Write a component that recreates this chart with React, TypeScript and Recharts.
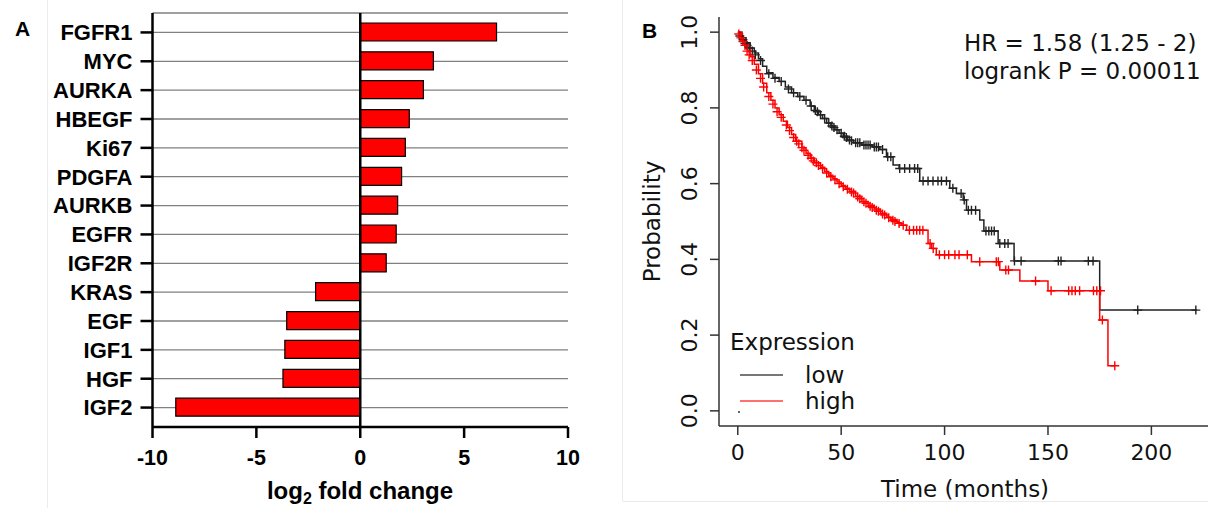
import React from 'react';
import {
  BarChart, Bar, XAxis, YAxis, CartesianGrid, ReferenceLine,
  ComposedChart, Line, Scatter,
} from 'recharts';

// ---------- Panel A data ----------
const genes = ['FGFR1', 'MYC', 'AURKA', 'HBEGF', 'Ki67', 'PDGFA', 'AURKB', 'EGFR', 'IGF2R', 'KRAS', 'EGF', 'IGF1', 'HGF', 'IGF2'];
const log2FoldChange = [6.56, 3.52, 3.04, 2.36, 2.17, 1.99, 1.8, 1.73, 1.25, -2.15, -3.54, -3.63, -3.72, -8.88];
const foldTicks = [-10, -5, 0, 5, 10];

// ---------- Panel B data (Kaplan-Meier) ----------
const timeTicks = [0, 50, 100, 150, 200];
const probTicks = [0, 0.2, 0.4, 0.6, 0.8, 1.0];

const lowSteps: [number, number][] = [
  [0, 1], [2, 0.985], [4, 0.972], [6, 0.958], [8, 0.945], [10, 0.93], [12, 0.91], [14, 0.893], [17, 0.88], [20, 0.87],
  [23, 0.855], [26, 0.84], [29, 0.83], [32, 0.82], [35, 0.805], [37, 0.793], [39, 0.782], [41, 0.772], [43, 0.76],
  [45, 0.752], [47, 0.742], [49, 0.733], [51, 0.725], [53, 0.715], [56, 0.708], [60, 0.702], [65, 0.697], [68.7, 0.69],
  [71.9, 0.671], [75.1, 0.649], [78, 0.64], [88, 0.607], [102.5, 0.588], [105.7, 0.574], [109, 0.557], [110.6, 0.53],
  [117, 0.504], [119, 0.475], [125.9, 0.442], [133.6, 0.396], [175, 0.266], [222, 0.266],
];

const highSteps: [number, number][] = [
  [0, 1], [2, 0.98], [4, 0.96], [6, 0.935], [8, 0.915], [10, 0.89], [12, 0.865], [14, 0.84], [16, 0.82], [18, 0.8],
  [20, 0.782], [22, 0.765], [24, 0.748], [26, 0.73], [28, 0.712], [31, 0.695], [33, 0.68], [35, 0.667], [37, 0.655],
  [40, 0.643], [42, 0.632], [44, 0.622], [46, 0.613], [48, 0.604], [50, 0.595], [52, 0.588], [54, 0.58], [57, 0.567],
  [60, 0.553], [63, 0.543], [66, 0.533], [69, 0.522], [72, 0.512], [74, 0.505], [77, 0.497], [79, 0.49], [81.6, 0.477],
  [92, 0.442], [93.7, 0.429], [96, 0.412], [113, 0.394], [126.7, 0.372], [136.4, 0.343], [150, 0.317], [175, 0.24],
  [179, 0.119], [182.3, 0.119],
];

const lowCensored: [number, number][] = [
  [1, 0.99], [2.5, 0.98], [3.5, 0.97], [4.5, 0.965], [5.5, 0.958], [7, 0.95], [8.5, 0.94], [11, 0.925], [15, 0.89],
  [18, 0.878], [21, 0.87], [24.5, 0.85], [27, 0.84], [30, 0.83], [33, 0.82], [35.5, 0.805], [37.5, 0.793], [38.5, 0.79],
  [40, 0.782], [42, 0.772], [44, 0.76], [45.5, 0.752], [46.5, 0.748], [48, 0.742], [50, 0.733], [51.5, 0.725],
  [52.5, 0.722], [54, 0.715], [55, 0.713], [57, 0.708], [58, 0.708], [59, 0.708], [61, 0.702], [62, 0.702], [63, 0.702],
  [64, 0.702], [66, 0.697], [67, 0.697], [68, 0.697], [70, 0.69], [72.5, 0.671], [74, 0.671], [78.3, 0.64], [80.7, 0.64],
  [83.1, 0.64], [85.5, 0.64], [87, 0.64], [89.6, 0.607], [92, 0.607], [94.4, 0.607], [96.8, 0.607], [98.5, 0.607],
  [100.9, 0.607], [104, 0.588], [108, 0.574], [109.5, 0.557], [111.5, 0.53], [113, 0.53], [115, 0.53], [120, 0.475],
  [121.4, 0.475], [122.7, 0.475], [124, 0.475], [126.7, 0.442], [129.1, 0.442], [130.7, 0.442], [133.8, 0.396],
  [137, 0.396], [155, 0.396], [156.3, 0.396], [169.5, 0.396], [171.8, 0.396], [193.4, 0.266], [221.5, 0.266],
];

const highCensored: [number, number][] = [
  [0.5, 0.995], [1.5, 0.985], [2.5, 0.975], [3.5, 0.965], [4.5, 0.95], [5.5, 0.94], [7, 0.925], [9, 0.9], [11, 0.878],
  [12.5, 0.855], [15, 0.83], [17, 0.81], [19, 0.79], [21, 0.775], [23.5, 0.755], [25, 0.74], [27, 0.722], [28.5, 0.712],
  [29.5, 0.705], [31, 0.695], [32, 0.688], [34, 0.675], [35.5, 0.667], [36.5, 0.66], [38, 0.655], [39, 0.648], [41, 0.64],
  [43, 0.628], [45, 0.618], [47, 0.61], [49, 0.6], [51, 0.592], [53, 0.585], [55, 0.578], [56, 0.575], [58, 0.565],
  [59, 0.56], [61, 0.552], [62, 0.548], [64, 0.54], [65, 0.537], [67, 0.53], [68, 0.527], [70, 0.52], [71, 0.517],
  [73, 0.51], [75, 0.503], [76, 0.5], [78, 0.495], [80, 0.49], [83, 0.477], [85, 0.477], [86.5, 0.477], [88, 0.477],
  [89.5, 0.477], [93, 0.442], [94.5, 0.429], [97.5, 0.412], [100, 0.412], [102, 0.412], [105, 0.412], [107, 0.412],
  [111, 0.412], [117, 0.394], [125, 0.394], [126, 0.394], [129.6, 0.372], [130.9, 0.372], [144, 0.343], [151.5, 0.317],
  [160, 0.317], [161.6, 0.317], [163.2, 0.317], [165.3, 0.317], [172, 0.317], [173.6, 0.317], [175.4, 0.317],
  [176.3, 0.24], [182.3, 0.119],
];

const barData = genes.map((gene, i) => ({ gene, value: log2FoldChange[i] }));
const toPts = (arr: [number, number][]) => arr.map(([t, s]) => ({ t, s }));
const lowData = toPts(lowSteps);
const highData = toPts(highSteps);
const lowCens = toPts(lowCensored);
const highCens = toPts(highCensored);

const ARIAL = 'Liberation Sans, Arial, Helvetica, sans-serif';
const DEJAVU = 'DejaVu Sans, sans-serif';

const plusShape = (color: string) => (props: any) => {
  const { cx, cy } = props;
  if (cx == null || cy == null) return <g />;
  return (
    <path
      d={`M${cx - 4.5},${cy}h9M${cx},${cy - 4.5}v9`}
      stroke={color}
      strokeWidth={1.4}
      fill="none"
    />
  );
};

const RotatedTick = (props: any) => {
  const { x, y, payload } = props;
  return (
    <text
      x={x}
      y={y}
      transform={`rotate(-90 ${x} ${y})`}
      textAnchor="middle"
      fontSize={22}
      fontFamily={DEJAVU}
      fill="#111"
    >
      {Number(payload.value).toFixed(1)}
    </text>
  );
};

export default function App() {
  return (
    <div style={{ position: 'fixed', left: 0, top: 0, width: 1208, height: 508, overflow: 'hidden', background: '#fff' }}>
      {/* Panel A */}
      <div style={{ position: 'absolute', left: 0, top: 0 }}>
        <BarChart
          layout="vertical"
          width={600}
          height={508}
          data={barData}
          margin={{ top: 13, right: 32, bottom: 0, left: 0 }}
        >
          <CartesianGrid vertical={false} stroke="#808080" strokeWidth={1.3} />
          <XAxis
            type="number"
            domain={[-10, 10]}
            ticks={foldTicks}
            allowDataOverflow
            height={81}
            tickSize={11}
            tickMargin={12}
            axisLine={{ stroke: '#000', strokeWidth: 2.5 }}
            tickLine={{ stroke: '#000', strokeWidth: 2.5 }}
            tick={{ fontSize: 21.5, fontWeight: 'bold', fill: '#000', fontFamily: ARIAL }}
          />
          <YAxis
            type="category"
            dataKey="gene"
            width={152.5}
            padding={{ top: 5, bottom: 5 }}
            tickSize={12}
            tickMargin={8}
            interval={0}
            axisLine={{ stroke: '#000', strokeWidth: 2.5 }}
            tickLine={{ stroke: '#000', strokeWidth: 2.5 }}
            tick={{ fontSize: 22, fontWeight: 'bold', fill: '#000', fontFamily: ARIAL }}
          />
          <Bar dataKey="value" fill="#ff0000" stroke="#000" strokeWidth={1.2} barSize={18} isAnimationActive={false} />
          <ReferenceLine x={0} stroke="#000" strokeWidth={2.5} />
        </BarChart>
      </div>

      {/* Panel B */}
      <div style={{ position: 'absolute', left: 620, top: 0 }}>
        <ComposedChart width={620} height={508} margin={{ top: 17, right: 14, bottom: 0, left: 0 }}>
          <XAxis
            type="number"
            dataKey="t"
            domain={[-9.08, 236.08]}
            ticks={timeTicks}
            allowDataOverflow
            height={82}
            tickSize={9}
            tickMargin={9}
            axisLine={{ stroke: '#333', strokeWidth: 1.5 }}
            tickLine={{ stroke: '#333', strokeWidth: 1.5 }}
            tick={{ fontSize: 22, fill: '#111', fontFamily: DEJAVU }}
          />
          <XAxis
            xAxisId="top"
            orientation="top"
            type="number"
            domain={[-9.08, 236.08]}
            allowDataOverflow
            height={0}
            tick={false}
            tickLine={false}
            axisLine={{ stroke: '#333', strokeWidth: 1.5 }}
          />
          <YAxis
            type="number"
            dataKey="s"
            domain={[-0.04, 1.04]}
            ticks={probTicks}
            allowDataOverflow
            width={99}
            tickSize={9}
            tickMargin={13}
            axisLine={{ stroke: '#333', strokeWidth: 1.5 }}
            tickLine={{ stroke: '#333', strokeWidth: 1.5 }}
            tick={<RotatedTick />}
          />
          <Line data={lowData} dataKey="s" type="stepAfter" stroke="#222" strokeWidth={1.5} dot={false} activeDot={false} isAnimationActive={false} />
          <Line data={highData} dataKey="s" type="stepAfter" stroke="#ff0000" strokeWidth={1.5} dot={false} activeDot={false} isAnimationActive={false} />
          <Scatter data={lowCens} dataKey="s" shape={plusShape('#222')} isAnimationActive={false} />
          <Scatter data={highCens} dataKey="s" shape={plusShape('#ff0000')} isAnimationActive={false} />
        </ComposedChart>
      </div>

      {/* Text overlay: panel letters, axis titles, annotations, legend */}
      <svg width={1208} height={508} style={{ position: 'absolute', left: 0, top: 0, pointerEvents: 'none' }}>
        <line x1={47.5} y1={0} x2={47.5} y2={508} stroke="#ececec" strokeWidth={1} />
        <path d="M622.5,0V501.5H1208" stroke="#ececec" strokeWidth={1} fill="none" />

        <text x={15} y={36} fontSize={21} fontWeight="bold" fontFamily={ARIAL} fill="#000">A</text>
        <text x={642} y={38} fontSize={21} fontWeight="bold" fontFamily={ARIAL} fill="#000">B</text>

        <text x={360} y={499} textAnchor="middle" fontSize={24} fontWeight="bold" fontFamily={ARIAL} fill="#000">
          log<tspan fontSize={16} dy={5}>2</tspan><tspan dy={-5}> fold change</tspan>
        </text>

        <text x={965} y={497} textAnchor="middle" fontSize={23} fontFamily={DEJAVU} fill="#111">Time (months)</text>
        <text x={660} y={221.5} textAnchor="middle" fontSize={23} fontFamily={DEJAVU} fill="#111" transform="rotate(-90 660 221.5)">Probability</text>

        <text x={964} y={51} fontSize={23} fontFamily={DEJAVU} fill="#111">HR = 1.58 (1.25 - 2)</text>
        <text x={964} y={79} fontSize={23} fontFamily={DEJAVU} fill="#111">logrank P = 0.00011</text>

        <text x={730} y={350} fontSize={23} fontFamily={DEJAVU} fill="#111">Expression</text>
        <line x1={740} y1={375} x2={783} y2={375} stroke="#777" strokeWidth={2} />
        <text x={805} y={383} fontSize={23} fontFamily={DEJAVU} fill="#111">low</text>
        <line x1={740} y1={401} x2={783} y2={401} stroke="#ff7070" strokeWidth={2} />
        <text x={805} y={409} fontSize={23} fontFamily={DEJAVU} fill="#111">high</text>
        <circle cx={739} cy={412} r={1} fill="#333" />
      </svg>
    </div>
  );
}
